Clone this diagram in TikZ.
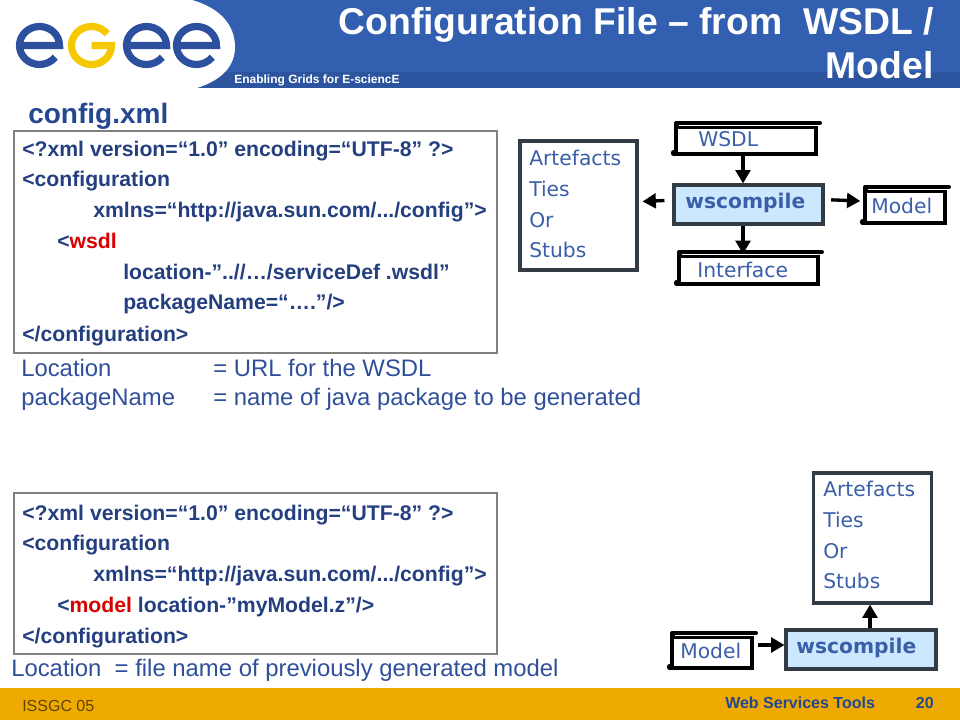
\documentclass[tikz,border=0pt]{standalone}
\usepackage{fontspec}
\setmainfont{Liberation Sans}
\newfontfamily\diagfont{DejaVu Sans}
\usetikzlibrary{arrows.meta}
\definecolor{bandblue}{HTML}{335FB0}
\definecolor{stripblue}{HTML}{2D559F}
\definecolor{logoblue}{HTML}{2C4F9E}
\definecolor{logoyellow}{HTML}{F6C800}
\definecolor{footgold}{HTML}{EEAA00}
\definecolor{headblue}{HTML}{24478F}
\definecolor{xmlblue}{HTML}{243F80}
\definecolor{noteblue}{HTML}{2F4F9A}
\definecolor{textblue}{HTML}{3A5FA8}
\definecolor{toolfill}{HTML}{CCE8FF}
\definecolor{edgegrey}{HTML}{333B45}
\tikzset{
  xmlline/.style={anchor=base west,inner sep=0pt,font=\bfseries\fontsize{15.9}{18}\selectfont,text=xmlblue},
  noteline/.style={anchor=base west,inner sep=0pt,font=\fontsize{17.9}{20}\selectfont,text=noteblue},
  difftext/.style={anchor=west,inner sep=0pt,font=\diagfont\fontsize{15.2}{17}\selectfont,text=textblue},
  xmlbox/.style={draw=black!50,line width=1.5pt,inner sep=0pt},
  listbox/.style={draw=edgegrey,line width=2.3pt,fill=white,inner sep=0pt},
  toolbox/.style={draw=edgegrey,line width=2.3pt,fill=toolfill,inner sep=0pt},
  flow/.style={-{Triangle[length=10pt,width=11pt]},line width=2.5pt,black},
  logoline/.style={line width=5.4pt}
}
\begin{document}
\begin{tikzpicture}[x=0.75pt,y=-0.75pt]
  \useasboundingbox (0,0) rectangle (960,720);
  \def\scroll(#1)(#2,#3)(#4,#5){%
    \draw[line width=3pt,line cap=round] (#2,#3) -- ({#4+4},#3);
    \draw[line width=3pt] (#2,#3) -- (#2,#5);
    \fill ({#2-2},{#5-1}) circle (3.2);
    \node[draw,line width=3pt,fill=white,inner sep=0pt,minimum width={(#4-#2)*0.75pt},minimum height={(#5-#3-4)*0.75pt}] (#1) at ({(#2+#4)/2},{(#3+#5+4)/2}) {};
    \draw[white,line width=1pt] ({#2+3},{#3+2.4}) -- ({#4+2},{#3+2.4});
  }
  \def\logoe(#1){%
    \draw[logoblue,logoline] (#1,45.5) ++(-20,0) -- ++(40,0) arc[start angle=0,end angle=-322,x radius=20,y radius=19];
  }
  % header and footer
  \fill[bandblue] (0,0) rectangle (960,72);
  \fill[stripblue] (0,72) rectangle (960,88);
  \fill[white] (0,0) -- (192,0) .. controls (220,8) and (235,25) .. (235,47) .. controls (235,66) and (222,80) .. (197,88) -- (0,88) -- cycle;
  \fill[footgold] (0,688) rectangle (960,720);
  \logoe(39.5)
  \logoe(146.5)
  \logoe(196.5)
  \draw[logoyellow,logoline] (91.5,45.5) -- (111.5,45.5) arc[start angle=0,end angle=322,x radius=20,y radius=19];
  \node[anchor=base west,inner sep=0pt,white,font=\bfseries\fontsize{9}{10}\selectfont] (tagline) at (234,84) {Enabling Grids for E-sciencE};
  \node[anchor=base east,inner sep=0pt,white,font=\bfseries\fontsize{28}{30}\selectfont] (titleA) at (934,34.5) {Configuration File – from\ \ WSDL /};
  \node[anchor=base east,inner sep=0pt,white,font=\bfseries\fontsize{28}{30}\selectfont] (titleB) at (934,79) {Model};
  \node[anchor=base west,inner sep=0pt,text=headblue,font=\bfseries\fontsize{21}{22}\selectfont] (confname) at (28,124) {config.xml};
  \node[anchor=base west,inner sep=0pt,text=black!60!footgold,font=\fontsize{12}{14}\selectfont] (issgc) at (22,711) {ISSGC 05};
  \node[anchor=base west,inner sep=0pt,text=headblue,font=\bfseries\fontsize{12}{14}\selectfont] (foot) at (725,708) {Web Services Tools};
  \node[anchor=base east,inner sep=0pt,text=headblue,font=\bfseries\fontsize{12}{14}\selectfont] (pageno) at (934,708) {20};
  % first configuration
  \node[xmlbox,minimum width=362.25pt,minimum height=166.5pt] (xmlA) at (255.5,242) {};
  \node[xmlline] (a1) at (22,157) {<?xml version=“1.0” encoding=“UTF-8” ?>};
  \node[xmlline] (a2) at (22,187) {<configuration};
  \node[xmlline] (a3) at (93,218) {xmlns=“http://java.sun.com/.../config”>};
  \node[xmlline] (a4) at (57,249) {<\textcolor{red!85!black}{wsdl}};
  \node[xmlline] (a5) at (123,280) {location-”..//…/serviceDef .wsdl”};
  \node[xmlline] (a6) at (123,310) {packageName=“….”/>};
  \node[xmlline] (a7) at (22,341) {</configuration>};
  \node[noteline] (n1) at (21,376) {Location};
  \node[noteline] (n2) at (213,376) {= URL for the WSDL};
  \node[noteline] (n3) at (21,405) {packageName};
  \node[noteline] (n4) at (213,405) {= name of java package to be generated};
  % second configuration
  \node[xmlbox,minimum width=362.25pt,minimum height=120.75pt] (xmlB) at (255.5,573.5) {};
  \node[xmlline] (b1) at (22,520) {<?xml version=“1.0” encoding=“UTF-8” ?>};
  \node[xmlline] (b2) at (22,550) {<configuration};
  \node[xmlline] (b3) at (93,581) {xmlns=“http://java.sun.com/.../config”>};
  \node[xmlline] (b4) at (57,612) {<\textcolor{red!85!black}{model} location-”myModel.z”/>};
  \node[xmlline] (b5) at (22,643) {</configuration>};
  \node[noteline] (n5) at (11,676) {Location\ \ = file name of previously generated model};
  % upper flow
  \node[listbox,minimum width=87.75pt,minimum height=96.75pt] (artA) at (578.5,205.5) {};
  \node[difftext] (artA1) at (529,158) {Artefacts};
  \node[difftext] (artA2) at (529,189) {Ties};
  \node[difftext] (artA3) at (529,220) {Or};
  \node[difftext] (artA4) at (529,250) {Stubs};
  \node[toolbox,minimum width=111.75pt,minimum height=29.25pt] (toolA) at (748.5,204.5) {};
  \node[difftext,font=\diagfont\bfseries\fontsize{15.2}{17}\selectfont] (toolAt) at (685,203) {wscompile};
  \scroll(wsdl)(676,123)(816,154)
  \node[difftext] (wsdlt) at (698,139) {WSDL};
  \scroll(iface)(679,252)(818,284)
  \node[difftext] (ifacet) at (697,270) {Interface};
  \scroll(modelA)(865,187)(945,223)
  \node[difftext] (modelAt) at (871,206) {Model};
  \draw[flow] (wsdl.south -| 743,0) -- (toolA.north -| 743,0);
  \draw[flow] (toolA.south -| 743,0) -- (iface.north -| 743,0);
  \draw[flow] ([xshift=-6pt,yshift=3pt]toolA.west) -- ([xshift=3pt,yshift=3pt]artA.east);
  \draw[flow] ([xshift=5pt,yshift=3.5pt]toolA.east) -- ([xshift=-2pt,yshift=4.5pt]modelA.west);
  % lower flow
  \node[listbox,minimum width=88.5pt,minimum height=97.5pt] (artB) at (872.5,538) {};
  \node[difftext] (artB1) at (823,489) {Artefacts};
  \node[difftext] (artB2) at (823,520) {Ties};
  \node[difftext] (artB3) at (823,551) {Or};
  \node[difftext] (artB4) at (823,581) {Stubs};
  \node[toolbox,minimum width=112.5pt,minimum height=29.25pt] (toolB) at (861,649.5) {};
  \node[difftext,font=\diagfont\bfseries\fontsize{15.2}{17}\selectfont] (toolBt) at (796,648) {wscompile};
  \scroll(modelB)(672,633)(752,668)
  \node[difftext] (modelBt) at (680,651) {Model};
  \draw[flow] ([xshift=3pt]modelB.east |- 0,645) -- (toolB.west |- 0,645);
  \draw[flow] (toolB.north -| 870,0) -- (artB.south -| 870,0);
\end{tikzpicture}
\end{document}
